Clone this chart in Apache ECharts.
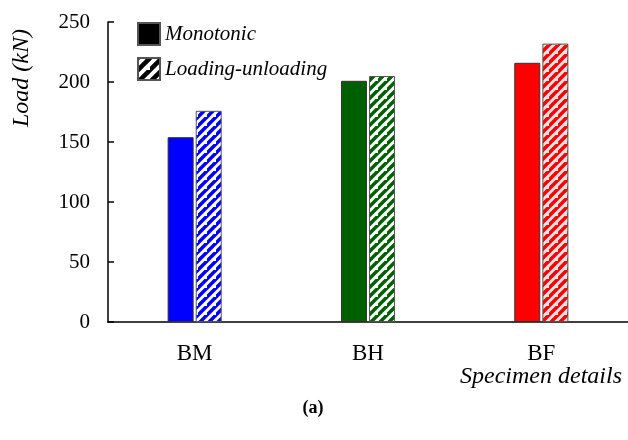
<!DOCTYPE html>
<html>
<head>
<meta charset="utf-8">
<script src="https://cdn.jsdelivr.net/npm/echarts@6/dist/echarts.min.js"></script>
<style>html,body{margin:0;padding:0;background:#fff}#c{width:628px;height:440px}</style>
</head>
<body>
<div id="c"></div>
<script>
var categories = ['BM', 'BH', 'BF'];
var monotonic = [154, 201, 216];
var loadingUnloading = [176, 205, 232];
var yTicks = [0, 50, 100, 150, 200, 250];
var barColors = ['#0000ff', '#006000', '#ff0000'];
var hatchBg = ['#ffffff', '#ffffff', '#e4e4e4'];

function stripe(color, bg, s, w) {
  var c = document.createElement('canvas');
  c.width = s; c.height = s;
  var g = c.getContext('2d');
  g.fillStyle = bg; g.fillRect(0, 0, s, s);
  g.strokeStyle = color; g.lineWidth = w;
  g.beginPath();
  g.moveTo(-2, s + 2); g.lineTo(s + 2, -2);
  g.moveTo(-2 - s, s + 2); g.lineTo(2, -2);
  g.moveTo(s - 2, 2 * s + 2); g.lineTo(2 * s + 2, s - 2);
  g.stroke();
  return {image: c, repeat: 'repeat'};
}

var serif = '"Liberation Serif", "DejaVu Serif", serif';
var chart = echarts.init(document.getElementById('c'), null, {renderer: 'canvas'});
chart.setOption({
  animation: false,
  backgroundColor: '#fff',
  grid: {left: 108, right: 0, top: 22, bottom: 118},
  legend: {
    orient: 'vertical', left: 137, top: 22, padding: 0,
    itemWidth: 22, itemHeight: 22, itemGap: 11,
    icon: 'rect',
    textStyle: {fontFamily: serif, fontStyle: 'italic', fontSize: 21, color: '#000'},
    data: ['Monotonic', 'Loading-unloading']
  },
  xAxis: {
    type: 'category', data: categories,
    axisLine: {lineStyle: {color: '#000', width: 1.5}},
    axisTick: {inside: true, length: 7, lineStyle: {color: '#000', width: 1.5}},
    axisLabel: {fontFamily: serif, fontSize: 23, color: '#000', margin: 20}
  },
  yAxis: {
    type: 'value', min: 0, max: 250, interval: 50,
    splitLine: {show: false},
    axisLine: {show: true, lineStyle: {color: '#000', width: 1.5}},
    axisTick: {show: true, inside: true, length: 6, lineStyle: {color: '#000', width: 1.5}},
    axisLabel: {fontFamily: serif, fontSize: 21, color: '#000', margin: 18,
      formatter: function (v) { return yTicks.indexOf(v) >= 0 ? String(v) : ''; }}
  },
  graphic: [
    {type: 'text', x: 22, y: 78, rotation: Math.PI / 2,
      style: {text: 'Load (kN)', font: 'italic 24px ' + serif, fill: '#000', align: 'center', verticalAlign: 'middle'}},
    {type: 'text', x: 541, y: 377,
      style: {text: 'Specimen details', font: 'italic 24px ' + serif, fill: '#000', align: 'center', verticalAlign: 'middle'}},
    {type: 'text', x: 313, y: 408,
      style: {text: '(a)', font: 'bold 18px ' + serif, fill: '#000', align: 'center', verticalAlign: 'middle'}}
  ],
  series: [
    {
      name: 'Monotonic', type: 'bar', barWidth: 26, barGap: '8%',
      itemStyle: {color: '#000', borderColor: '#555', borderWidth: 1},
      data: monotonic.map(function (v, i) {
        return {value: v, itemStyle: {color: barColors[i], borderColor: '#333', borderWidth: 1}};
      })
    },
    {
      name: 'Loading-unloading', type: 'bar', barWidth: 26,
      itemStyle: {color: stripe('#000', '#fff', 12, 4.5), borderColor: '#555', borderWidth: 1},
      data: loadingUnloading.map(function (v, i) {
        return {value: v, itemStyle: {color: stripe(barColors[i], hatchBg[i], 9, 3.5), borderColor: '#555', borderWidth: 1}};
      })
    }
  ]
});
</script>
</body>
</html>
